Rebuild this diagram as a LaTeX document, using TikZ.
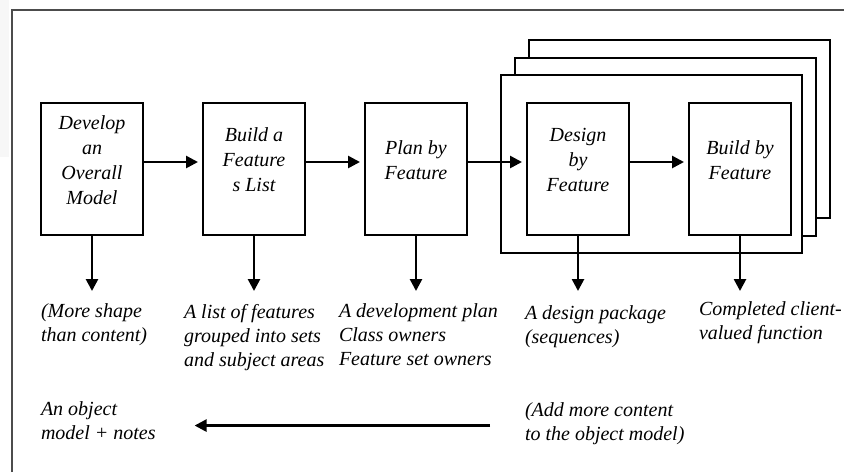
\documentclass[tikz,border=0pt]{standalone}
\usepackage{fontspec}
\setmainfont{Liberation Serif}
\usetikzlibrary{arrows.meta,positioning}

\begin{document}
\begin{tikzpicture}[x=0.5pt,y=-0.5pt,>={Triangle[length=6pt,width=6pt]},
                    line width=1pt,node distance=29pt]
  \tikzstyle{proc}=[draw,minimum width=51pt,minimum height=66pt,inner sep=0pt]
  \tikzstyle{ptext}=[font=\itshape\fontsize{10}{12.5}\selectfont,align=center,yshift=4.5pt]
  \tikzstyle{result}=[font=\itshape\fontsize{10}{12}\selectfont,align=left,anchor=north west,
                      inner sep=0pt,execute at begin node=\strut]
  \tikzstyle{flow}=[->,line width=1.3pt]
  \tikzstyle{stack}=[draw,fill=white,line width=1pt]

  \useasboundingbox (0,0) rectangle (844,472);
  \fill[gray!6] (0,0) rectangle (9,157);
  \draw[gray!60!black,line width=1.2pt] (12,472) -- (12,10) -- (844,10);

  % repeated per feature
  \foreach \i in {2,1,0}
    \draw[stack] (501+14*\i,75-17.5*\i) rectangle ++(301,178);

  \node[proc] (dev)                  at (92,169) {};
  \node[proc] (list)   [right=of dev]            {};
  \node[proc] (plan)   [right=of list]           {};
  \node[proc] (design) [right=of plan]           {};
  \node[proc] (build)  [right=of design]         {};

  \node[ptext] (dev-t)    at (dev)    {Develop\\an\\Overall\\Model};
  \node[ptext] (list-t)   at (list)   {Build a\\Feature\\s List};
  \node[ptext] (plan-t)   at (plan)   {Plan by\\Feature};
  \node[ptext] (design-t) at (design) {Design\\by\\Feature};
  \node[ptext] (build-t)  at (build)  {Build by\\Feature};

  \foreach \a/\b in {dev/list,list/plan,plan/design,design/build}
    \draw[flow,shorten >=2pt] ([yshift=3.5pt]\a.east) -- ([yshift=3.5pt]\b.west);

  \foreach \a in {dev,list,plan,design,build}
    \draw[flow] (\a.south) -- ++(0,55) coordinate (\a-o);

  % results
  \node[result] (dev-out)    at (40,303)  {(More shape\\than content)};
  \node[result] (list-out)   at (183,303) {A list of features\\grouped into sets\\and subject areas};
  \node[result] (plan-out)   at (338,303) {A development plan\\Class owners\\Feature set owners};
  \node[result] (design-out) at (524,305) {A design package\\(sequences)};
  \node[result] (build-out)  at (698,301) {Completed client-\\valued function};

  \node[result] (obj)  at (40,401)  {An object\\model + notes};
  \node[result] (more) at (524,402) {(Add more content\\to the object model)};
  \draw[flow,shorten <=17pt,shorten >=19pt] (more.west) -- (more.west -| obj.east);
\end{tikzpicture}
\end{document}
